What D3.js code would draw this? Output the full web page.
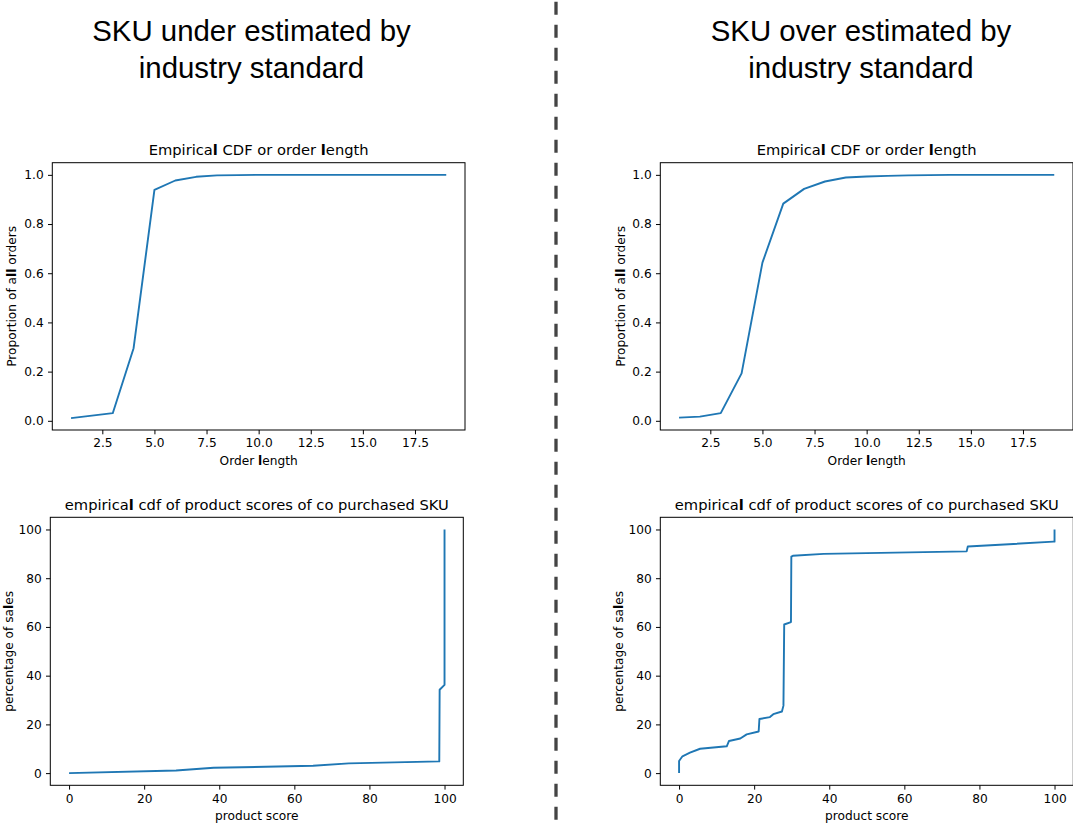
<!DOCTYPE html>
<html>
<head>
<meta charset="utf-8">
<script src="https://cdn.jsdelivr.net/npm/d3@7"></script>
<style>
  html, body { margin: 0; padding: 0; background: #fff; }
  svg { display: block; }
</style>
</head>
<body>
<svg id="chart" width="1073" height="825"></svg>
<script>
// ---------- DATA ----------
const orderLength = [1,2,3,4,5,6,7,8,9,10,11,12,13,14,15,16,17,18,19];
const underOrderCdf = [0.011,0.021,0.031,0.295,0.939,0.977,0.992,0.998,0.999,1.0,1.0,1.0,1.0,1.0,1.0,1.0,1.0,1.0,1.0];
const overOrderCdf  = [0.013,0.017,0.031,0.193,0.643,0.883,0.943,0.973,0.989,0.993,0.996,0.998,0.999,1.0,1.0,1.0,1.0,1.0,1.0];

const underScoreX = [0, 28.5, 38.5, 65, 74.5, 98.6, 98.7, 100, 100];
const underScoreY = [0, 1.1, 2.2, 3.0, 4.0, 4.8, 34.2, 36.2, 100];

const overScoreX = [0, 0, 0.9, 2.9, 5.6, 12.7, 13.3, 16.3, 18, 21.2, 21.4, 24.2, 25.1, 27.4, 27.8, 28, 29.8, 29.9, 30.3, 38.5, 76.6, 76.9, 99.7, 100, 100];
const overScoreY = [0, 5, 6.9, 8.4, 10, 11, 13.2, 14.2, 15.9, 17.1, 22.2, 23, 24.2, 25.3, 27.7, 61, 62, 88.9, 89.2, 90, 91, 93, 95, 95, 100];

const orderTicks = [2.5, 5.0, 7.5, 10.0, 12.5, 15.0, 17.5];
const propTicks = [0.0, 0.2, 0.4, 0.6, 0.8, 1.0];
const scoreTicks = [0, 20, 40, 60, 80, 100];
const pctTicks = [0, 20, 40, 60, 80, 100];

const headings = [["SKU under estimated by", "industry standard"], ["SKU over estimated by", "industry standard"]];
const cdfTitle = "Empirical CDF or order length";
const scoreTitle = "empirical cdf of product scores of co purchased SKU";

// ---------- LAYOUT ----------
const svg = d3.select("#chart");
const LINE = "#1f77b4";
const FONT = "'DejaVu Sans', sans-serif";

function richText(sel, str) {
  // mimic the heavy "l" glyph rendering of the original
  const parts = str.split(/(l)/);
  parts.forEach(p => {
    if (!p) return;
    const t = sel.append("tspan").text(p);
    if (p === "l") t.attr("font-weight", "bold");
  });
}

function panel(cfg) {
  const {x0, y0, w, h, xs, ys, xTicks, yTicks, xFmt, yFmt, title, xLabel, yLabel, yLabelX, xData, yData} = cfg;
  const g = svg.append("g").attr("transform", `translate(${x0},${y0})`);
  const x = d3.scaleLinear().domain(xs).range([0, w]);
  const y = d3.scaleLinear().domain(ys).range([h, 0]);

  const line = d3.line().x(d => x(d[0])).y(d => y(d[1]));
  const pts = xData.map((v, i) => [v, yData[i]]);
  g.append("path").datum(pts).attr("d", line)
    .attr("fill", "none").attr("stroke", LINE).attr("stroke-width", 1.9)
    .attr("stroke-linejoin", "round").attr("stroke-linecap", "butt");

  const xa = g.append("g").attr("transform", `translate(0,${h})`)
    .call(d3.axisBottom(x).tickValues(xTicks).tickFormat(xFmt).tickSize(4.3).tickPadding(4.3).tickSizeOuter(0));
  const ya = g.append("g")
    .call(d3.axisLeft(y).tickValues(yTicks).tickFormat(yFmt).tickSize(4.3).tickPadding(4.3).tickSizeOuter(0));
  [xa, ya].forEach(a => {
    a.select(".domain").remove();
    a.selectAll("line").attr("stroke", "#000").attr("stroke-width", 1);
    a.selectAll("text").attr("font-family", FONT).attr("font-size", 12.2).attr("fill", "#000");
  });

  g.append("rect").attr("x", 0).attr("y", 0).attr("width", w).attr("height", h)
    .attr("fill", "none").attr("stroke", "#000").attr("stroke-width", 1);

  const t = g.append("text").attr("x", w / 2).attr("y", -7.3).attr("text-anchor", "middle")
    .attr("font-family", FONT).attr("font-size", 14.7).attr("fill", "#000");
  richText(t, title);

  const xl = g.append("text").attr("x", w / 2).attr("y", h + 34.8).attr("text-anchor", "middle")
    .attr("font-family", FONT).attr("font-size", 12.2).attr("fill", "#000");
  richText(xl, xLabel);

  const yl = g.append("text").attr("transform", `translate(${yLabelX - x0},${h / 2}) rotate(-90)`)
    .attr("text-anchor", "middle")
    .attr("font-family", FONT).attr("font-size", 12.2).attr("fill", "#000");
  richText(yl, yLabel);
}

const f1 = d3.format(".1f");
const f0 = d3.format("d");

panel({x0: 52.3, y0: 162.7, w: 412.7, h: 267.3, xs: [0.1, 19.9], ys: [-0.0374, 1.0494],
  xTicks: orderTicks, yTicks: propTicks, xFmt: f1, yFmt: f1,
  title: cdfTitle, xLabel: "Order length", yLabel: "Proportion of all orders", yLabelX: 16.2,
  xData: orderLength, yData: underOrderCdf});
panel({x0: 660.3, y0: 162.7, w: 412.7, h: 267.3, xs: [0.1, 19.9], ys: [-0.0374, 1.0494],
  xTicks: orderTicks, yTicks: propTicks, xFmt: f1, yFmt: f1,
  title: cdfTitle, xLabel: "Order length", yLabel: "Proportion of all orders", yLabelX: 624.6,
  xData: orderLength, yData: overOrderCdf});
panel({x0: 50.3, y0: 517.3, w: 413, h: 268, xs: [-5, 105], ys: [-5, 105],
  xTicks: scoreTicks, yTicks: pctTicks, xFmt: f0, yFmt: f0,
  title: scoreTitle, xLabel: "product score", yLabel: "percentage of sales", yLabelX: 12.6,
  xData: underScoreX, yData: underScoreY});
panel({x0: 660.3, y0: 517.3, w: 413, h: 268, xs: [-5, 105], ys: [-5, 105],
  xTicks: scoreTicks, yTicks: pctTicks, xFmt: f0, yFmt: f0,
  title: scoreTitle, xLabel: "product score", yLabel: "percentage of sales", yLabelX: 622.6,
  xData: overScoreX, yData: overScoreY});

// headings
const headX = [251.5, 861];
headings.forEach((lines, i) => {
  lines.forEach((s, j) => {
    svg.append("text").attr("x", headX[i]).attr("y", 41 + j * 37).attr("text-anchor", "middle")
      .attr("font-family", "'Liberation Sans', Arial, sans-serif").attr("font-size", 29.4)
      .attr("fill", "#000").text(s);
  });
});

// dashed separator
svg.append("line").attr("x1", 556).attr("x2", 556).attr("y1", 1.7).attr("y2", 825)
  .attr("stroke", "#444").attr("stroke-width", 3.3).attr("stroke-dasharray", "13,10");
</script>
</body>
</html>
